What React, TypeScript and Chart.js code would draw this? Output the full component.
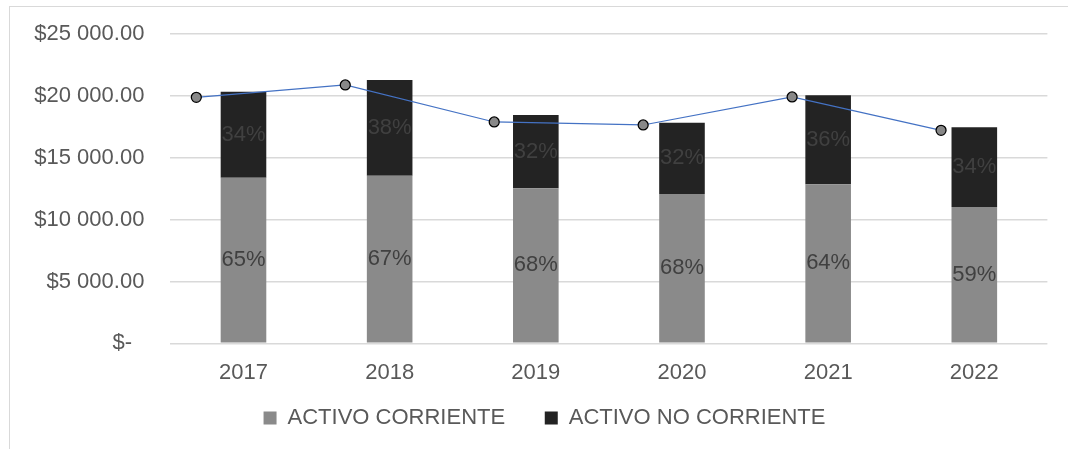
import React, { useEffect, useRef } from "react";
import { Chart, registerables } from "chart.js";

Chart.register(...registerables);

const years = ["2017", "2018", "2019", "2020", "2021", "2022"];
const activoCorriente = [13385, 13547, 12529, 12068, 12852, 11017];
const activoNoCorriente = [6952, 7736, 5924, 5763, 7194, 6442];
const totalLine = [19884, 20878, 17888, 17645, 19908, 17217];
const pctCorriente = ["65%", "67%", "68%", "68%", "64%", "59%"];
const pctNoCorriente = ["34%", "38%", "32%", "32%", "36%", "34%"];
const yTickLabels = ["$-  ", "$5 000.00", "$10 000.00", "$15 000.00", "$20 000.00", "$25 000.00"];

const FONT = "'Liberation Sans', Arial, sans-serif";

const pctLabelPlugin = {
  id: "pctLabels",
  afterDatasetsDraw(chart: any) {
    const ctx = chart.ctx;
    ctx.save();
    ctx.font = `22px ${FONT}`;
    ctx.fillStyle = "#404040";
    ctx.textAlign = "center";
    ctx.textBaseline = "middle";
    const sets = [pctCorriente, pctNoCorriente];
    sets.forEach((labels, di) => {
      const meta = chart.getDatasetMeta(di);
      meta.data.forEach((bar: any, i: number) => {
        const y = (bar.y + bar.base) / 2;
        ctx.fillText(labels[i], bar.x, y);
      });
    });
    ctx.restore();
  },
};

export default function App() {
  const ref = useRef<HTMLCanvasElement>(null);
  useEffect(() => {
    document.body.style.overflow = "hidden";
    const chart = new Chart(ref.current!, {
      type: "bar",
      data: {
        labels: years,
        datasets: [
          {
            label: "ACTIVO CORRIENTE   ",
            data: activoCorriente,
            backgroundColor: "#8a8a8a",
            stack: "a",
            order: 1,
            grouped: false,
            barPercentage: 0.312,
            categoryPercentage: 1,
          },
          {
            label: "ACTIVO NO CORRIENTE",
            data: activoNoCorriente,
            backgroundColor: "#232323",
            stack: "a",
            order: 1,
            grouped: false,
            barPercentage: 0.312,
            categoryPercentage: 1,
          },
          {
            type: "line",
            label: "TOTAL",
            data: totalLine.map((v, i) => ({ x: i, y: v })),
            xAxisID: "x2",
            yAxisID: "y",
            stack: "line",
            order: 0,
            borderColor: "#4472C4",
            borderWidth: 1.25,
            pointRadius: 5,
            pointBackgroundColor: "#888888",
            pointBorderColor: "#000000",
            pointBorderWidth: 1.25,
            tension: 0,
          } as any,
        ],
      },
      options: {
        animation: false,
        responsive: false,
        devicePixelRatio: 1,
        layout: { padding: { left: 0, right: 0, top: 27, bottom: 10 } },
        plugins: {
          tooltip: { enabled: false },
          legend: {
            position: "bottom",
            labels: {
              boxWidth: 13,
              boxHeight: 13,
              padding: 21.3,
              color: "#595959",
              font: { family: FONT, size: 22 },
              filter: (item: any) => item.datasetIndex < 2,
            },
          },
        },
        scales: {
          x: {
            stacked: true,
            grid: { display: false },
            border: { display: false },
            ticks: { color: "#595959", font: { family: FONT, size: 22 }, padding: 8 },
            afterFit: (s: any) => {
              s.height = 42.4;
            },
          },
          x2: {
            type: "linear",
            display: false,
            offset: false,
            min: -0.174,
            max: 5.714,
          },
          y: {
            stacked: true,
            min: 0,
            max: 25000,
            border: { display: false },
            grid: {
              color: "#d9d9d9",
              lineWidth: 1.5,
              drawTicks: true,
              tickLength: 26,
              tickColor: "rgba(0,0,0,0)",
            },
            ticks: {
              stepSize: 5000,
              padding: 0,
              color: "#595959",
              font: { family: FONT, size: 22 },
              callback: (v: any) => yTickLabels[Math.round(Number(v) / 5000)],
            },
            afterFit: (s: any) => {
              s.width = 160.4;
            },
          },
          yR: {
            type: "linear",
            position: "right",
            display: true,
            grid: { display: false },
            border: { display: false },
            ticks: { display: false },
            afterFit: (s: any) => {
              s.width = 31.6;
            },
          },
        },
      } as any,
      plugins: [pctLabelPlugin],
    });
    return () => chart.destroy();
  }, []);
  return (
    <div
      style={{
        position: "absolute",
        left: 9,
        top: 6,
        width: 1090,
        height: 460,
        border: "1px solid #d9d9d9",
        boxSizing: "border-box",
        background: "#fff",
      }}
    >
      <canvas ref={ref} width={1069} height={442} style={{ position: "absolute", left: 0, top: 0 }} />
    </div>
  );
}
